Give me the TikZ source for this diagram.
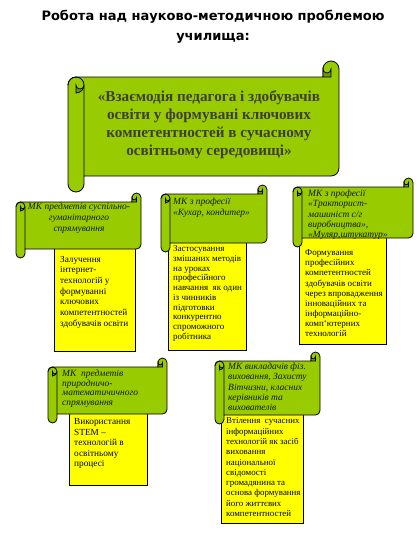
\documentclass[tikz,border=0pt]{standalone}
\usepackage{fontspec}
\setmainfont{Liberation Serif}
\newfontfamily\titlefont{DejaVu Sans}
\definecolor{scrollgreen}{RGB}{153,204,0}
\definecolor{curlgreen}{RGB}{110,150,0}
\definecolor{boxyellow}{RGB}{255,255,0}
\definecolor{maintext}{RGB}{62,62,50}
\definecolor{scrolltextc}{RGB}{20,24,0}
\tikzset{
  scrollbody/.style={fill=scrollgreen, draw=black, line width=0.8pt, line join=round},
  scrollline/.style={draw=black, line width=0.8pt},
  curl/.style={fill=curlgreen, draw=black, line width=0.7pt},
  ybox/.style={fill=boxyellow, draw=black, line width=0.8pt, inner sep=0pt, anchor=north west},
  boxtext/.style={font=\fontsize{9.5}{10.4}\selectfont, align=left, inner sep=0pt, anchor=north west},
  scrolltext/.style={font=\itshape\fontsize{9.5}{10.5}\selectfont, align=left, inner sep=0pt, anchor=north west, text=scrolltextc},
}
% #1 L, #2 T, #3 R, #4 B, #5 roll size  (screen coordinates, y downwards; arc angles are canvas angles)
\newcommand\myscroll[5]{%
  \pgfmathsetmacro\sL{#1}\pgfmathsetmacro\sT{#2}\pgfmathsetmacro\sR{#3}\pgfmathsetmacro\sB{#4}%
  \pgfmathsetmacro\rc{#5}\pgfmathsetmacro\rh{#5/2}\pgfmathsetmacro\rq{#5/4}%
  \pgfmathsetmacro\xc{\sR-\rc}\pgfmathsetmacro\xd{\sR-\rh}%
  \pgfmathsetmacro\yt{\sT+\rc}\pgfmathsetmacro\yh{\sT+\rh}%
  \pgfmathsetmacro\yc{\sT+\rc+\rh}%
  \pgfmathsetmacro\yb{\sB-\rc}\pgfmathsetmacro\ybh{\sB-\rh}\pgfmathsetmacro\ye{\sB-\rc-\rh}%
  \pgfmathsetmacro\lh{\sL+\rh}\pgfmathsetmacro\lc{\sL+\rc}%
  \path[scrollbody] (\lh,\yt) -- (\xc,\yt) -- (\xc,\yh)
     arc[start angle=180,end angle=0,radius=\rh pt] -- (\sR,\ye)
     arc[start angle=0,end angle=-90,radius=\rh pt] -- (\lc,\yb) -- (\lc,\ybh)
     arc[start angle=0,end angle=-180,radius=\rh pt] -- (\sL,\yc)
     arc[start angle=180,end angle=90,radius=\rh pt] -- cycle;
  % left roll
  \draw[scrollline] (\sL,\yc) arc[start angle=180,end angle=0,radius=\rh pt] -- (\lc,\yb);
  \path[curl] (\lh,{\yc+\rh}) arc[start angle=-90,end angle=0,radius=\rh pt]
     arc[start angle=0,end angle=-180,radius=\rq pt] -- cycle;
  % top right roll
  \path[curl] (\xd,\yt) -- (\xd,\yh) arc[start angle=0,end angle=-180,radius=\rq pt] -- (\xc,\yt) -- cycle;
}
\begin{document}
\begin{tikzpicture}[x=1pt,y=-1pt]
\useasboundingbox[fill=white] (0,0) rectangle (416,542);

\node[font=\titlefont\bfseries\fontsize{13}{20}\selectfont, align=center] (title) at (213,27)
  {Робота над науково-методичною проблемою\\училища:};

% main scroll
\myscroll{68}{61}{339}{192}{16}
\node[font=\bfseries\fontsize{15.2}{18}\selectfont, text=maintext, align=center] (main) at (209,125)
  {«Взаємодія педагога і здобувачів\\освіти у формувані ключових\\компетентностей в сучасному\\освітньому середовищі»};

% A
\node[ybox, minimum width=81pt, minimum height=103pt] (boxA) at (54,248) {};
\myscroll{16}{193}{141}{258}{9}
\node[scrolltext, align=center, anchor=north, font=\itshape\fontsize{9.5}{11}\selectfont] (scrA) at (79,202.5)
  {МК предметів суспільно-\\гуманітарного\\спрямування};
\node[boxtext, font=\fontsize{9.2}{10.7}\selectfont] (txtA) at (60,255.7)
  {Залучення\\інтернет-\\технологій у\\формуванні\\ключових\\компетентностей\\здобувачів освіти};

% B
\node[ybox, minimum width=78pt, minimum height=110pt] (boxB) at (168,240) {};
\myscroll{161}{185}{267}{252}{9}
\node[scrolltext, font=\itshape\fontsize{9.5}{11}\selectfont] (scrB) at (173,197.7)
  {МК з професії\\«Кухар, кондитер»};
\node[boxtext, font=\fontsize{9}{9.7}\selectfont] (txtB) at (173,245.7)
  {Застосування\\змішаних методів\\на уроках\\професійного\\навчання \ як один\\із чинників\\підготовки\\конкурентно\\спроможного\\робітника};

% C
\node[ybox, minimum width=87pt, minimum height=109pt] (boxC) at (299,235) {};
\myscroll{293}{178}{413}{247}{9}
\node[scrolltext, font=\itshape\fontsize{9.5}{10.3}\selectfont] (scrC) at (308,189.7)
  {МК з професії\\«Тракторист-\\машиніст с/г\\виробництва»,\\«Муляр,штукатур»};
\node[boxtext, font=\fontsize{9}{10.1}\selectfont] (txtC) at (305,249.7)
  {Формування\\професійних\\компетентностей\\здобувачів освіти\\через впровадження\\інноваційних та\\інформаційно-\\комп{\char"60}ютерних\\технологій};

% D
\node[ybox, minimum width=78pt, minimum height=75pt] (boxD) at (69,410) {};
\myscroll{48}{358}{167}{423}{9}
\node[scrolltext, font=\itshape\fontsize{9.5}{9.7}\selectfont] (scrD) at (62,369.7)
  {МК \ предметів\\природничо-\\математичичного\\спрямування};
\node[boxtext, font=\fontsize{9.3}{10.5}\selectfont] (txtD) at (74,418.7)
  {Використання\\STEM –\\технологій в\\освітньому\\процесі};

% E
\node[ybox, minimum width=82pt, minimum height=111pt] (boxE) at (221,412) {};
\myscroll{215}{352}{320}{424}{9}
\node[scrolltext, font=\itshape\fontsize{9.5}{10.3}\selectfont] (scrE) at (228,362.7)
  {МК викладачів фіз.\\виховання, Захисту\\Вітчизни, класних\\керівників та\\вихователів};
\node[boxtext, font=\fontsize{8.9}{10.3}\selectfont] (txtE) at (226,417.7)
  {Втілення \ сучасних\\інформаційних\\технологій як засіб\\виховання\\національної\\свідомості\\громадянина та\\основа формування\\його життєвих\\компетентностей};
\end{tikzpicture}
\end{document}
